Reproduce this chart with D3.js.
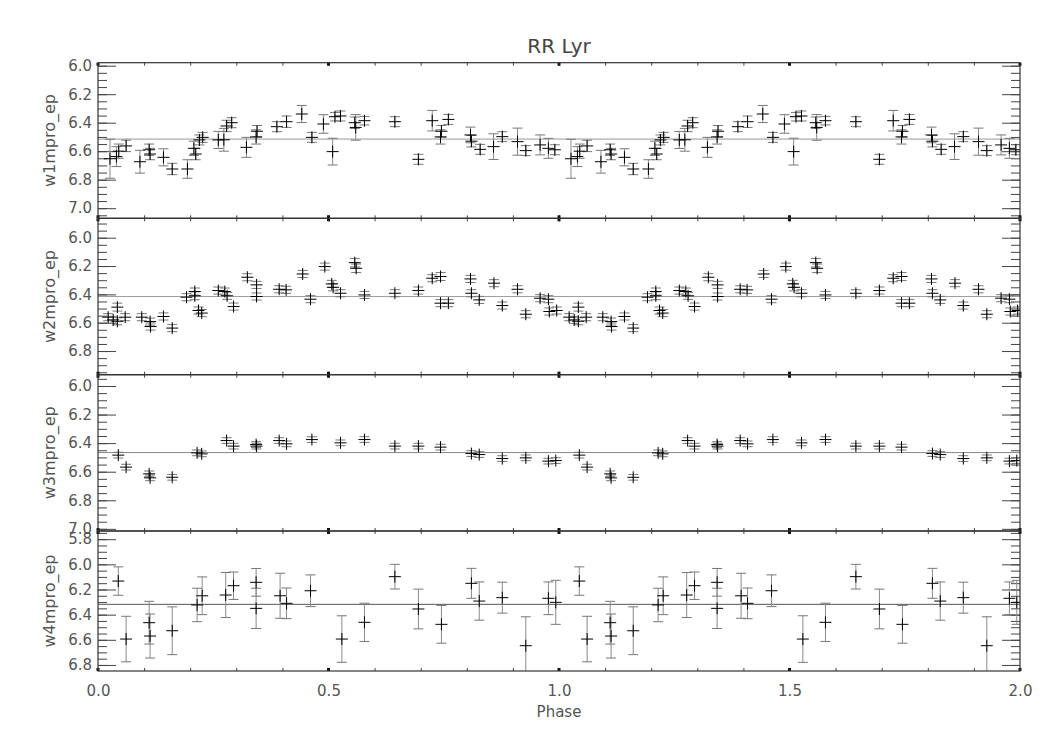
<!DOCTYPE html>
<html>
<head>
<meta charset="utf-8">
<script src="https://cdn.jsdelivr.net/npm/d3@7"></script>
<style>
  html, body { margin: 0; padding: 0; background: #fff; }
  svg { display: block; font-family: "DejaVu Sans", sans-serif; }
</style>
</head>
<body>
<svg id="chart" width="1050" height="750"></svg>
<script>
// ---------------- data ----------------
const title = "RR Lyr";
const xLabel = "Phase";
const bandNames = ["w1mpro_ep", "w2mpro_ep", "w3mpro_ep", "w4mpro_ep"];
const xTickLabels = [0.0, 0.5, 1.0, 1.5, 2.0];

const w1Phase = [0.026,0.040,0.045,0.061,0.091,0.111,0.113,0.142,0.161,0.194,0.208,0.212,0.220,0.227,0.261,0.273,0.279,0.290,0.322,0.343,0.345,0.388,0.409,0.442,0.464,0.489,0.509,0.514,0.526,0.557,0.559,0.578,0.644,0.695,0.725,0.743,0.745,0.760,0.808,0.810,0.829,0.858,0.877,0.910,0.928,0.959,0.977,0.991];
const w1Mag   = [6.653,6.638,6.600,6.563,6.674,6.590,6.620,6.643,6.725,6.725,6.580,6.620,6.521,6.503,6.521,6.520,6.423,6.400,6.573,6.500,6.460,6.428,6.393,6.339,6.503,6.409,6.603,6.358,6.353,6.400,6.433,6.386,6.393,6.657,6.386,6.500,6.460,6.377,6.486,6.530,6.587,6.568,6.498,6.533,6.596,6.556,6.580,6.590];
const w1Err   = [0.137,0.070,0.050,0.040,0.080,0.040,0.040,0.060,0.040,0.065,0.050,0.040,0.035,0.035,0.060,0.080,0.040,0.035,0.070,0.050,0.040,0.035,0.040,0.060,0.035,0.065,0.094,0.030,0.035,0.040,0.090,0.030,0.035,0.035,0.072,0.050,0.040,0.035,0.055,0.040,0.035,0.090,0.035,0.095,0.035,0.070,0.070,0.035];

const w2Phase = [0.022,0.033,0.042,0.042,0.059,0.095,0.113,0.114,0.142,0.161,0.192,0.210,0.210,0.218,0.225,0.261,0.275,0.280,0.294,0.324,0.344,0.344,0.393,0.408,0.444,0.461,0.492,0.507,0.510,0.526,0.557,0.560,0.578,0.644,0.695,0.725,0.743,0.743,0.760,0.808,0.810,0.827,0.859,0.877,0.910,0.928,0.959,0.977,0.979,0.995];
const w2Mag   = [6.561,6.580,6.490,6.590,6.561,6.561,6.592,6.627,6.556,6.638,6.420,6.410,6.380,6.514,6.532,6.373,6.380,6.410,6.486,6.279,6.333,6.415,6.364,6.368,6.256,6.434,6.204,6.326,6.350,6.392,6.176,6.216,6.404,6.392,6.373,6.286,6.274,6.462,6.462,6.291,6.392,6.439,6.321,6.479,6.364,6.540,6.427,6.434,6.521,6.514];
const w2Err   = [0.025,0.025,0.028,0.025,0.025,0.025,0.025,0.025,0.025,0.025,0.025,0.028,0.025,0.025,0.025,0.025,0.025,0.025,0.025,0.025,0.025,0.025,0.025,0.025,0.025,0.025,0.025,0.025,0.025,0.025,0.030,0.030,0.025,0.025,0.025,0.025,0.028,0.025,0.025,0.025,0.025,0.025,0.025,0.025,0.025,0.025,0.025,0.025,0.025,0.025];

const w3Phase = [0.044,0.061,0.111,0.113,0.161,0.215,0.225,0.279,0.294,0.343,0.344,0.393,0.409,0.464,0.526,0.578,0.644,0.695,0.743,0.810,0.827,0.877,0.928,0.977,0.993];
const w3Mag   = [6.484,6.568,6.615,6.643,6.639,6.468,6.475,6.382,6.421,6.410,6.421,6.382,6.405,6.375,6.398,6.375,6.421,6.421,6.428,6.473,6.480,6.508,6.503,6.526,6.522];
const w3Err   = [0.020,0.020,0.020,0.020,0.020,0.020,0.020,0.020,0.020,0.020,0.020,0.020,0.020,0.020,0.020,0.020,0.020,0.020,0.020,0.020,0.020,0.020,0.020,0.020,0.020];

const w4Phase = [0.044,0.061,0.111,0.113,0.161,0.215,0.226,0.277,0.294,0.343,0.343,0.395,0.409,0.461,0.529,0.578,0.644,0.695,0.745,0.810,0.827,0.877,0.928,0.977,0.993];
const w4Mag   = [6.133,6.594,6.464,6.570,6.528,6.323,6.250,6.244,6.170,6.143,6.350,6.250,6.310,6.210,6.594,6.461,6.098,6.355,6.477,6.151,6.292,6.265,6.647,6.270,6.302];
const w4Err   = [0.113,0.181,0.170,0.175,0.190,0.133,0.150,0.179,0.109,0.110,0.160,0.179,0.122,0.126,0.185,0.152,0.098,0.158,0.150,0.119,0.152,0.123,0.230,0.130,0.175];

const meanMag = [6.515, 6.415, 6.466, 6.318];
const yDomains = [[5.979, 7.071], [5.863, 6.967], [5.921, 7.015], [5.735, 6.848]];
const yMajorTicks = [
  [6.0, 6.2, 6.4, 6.6, 6.8, 7.0],
  [6.0, 6.2, 6.4, 6.6, 6.8],
  [6.0, 6.2, 6.4, 6.6, 6.8, 7.0],
  [5.8, 6.0, 6.2, 6.4, 6.6, 6.8]
];

// ---------------- layout ----------------
const svg = d3.select("#chart");
const left = 98, right = 1020;
const tops = [62.7, 218.3, 374.7, 531];
const bottoms = [218.3, 374.7, 531, 671];
const meanColors = ["#999", "#a0a0a0", "#888", "#555"];

const x = d3.scaleLinear().domain([0, 2]).range([left, right]);

const bands = [
  {phase: w1Phase, mag: w1Mag, err: w1Err},
  {phase: w2Phase, mag: w2Mag, err: w2Err},
  {phase: w3Phase, mag: w3Mag, err: w3Err},
  {phase: w4Phase, mag: w4Mag, err: w4Err}
];

const labelColor = "#555";
const axisColor = "#333";

bands.forEach((b, i) => {
  const top = tops[i], bot = bottoms[i];
  const y = d3.scaleLinear().domain(yDomains[i]).range([top, bot]);
  const g = svg.append("g");

  // clip
  const cid = "clip" + i;
  svg.append("clipPath").attr("id", cid).append("rect")
    .attr("x", left).attr("y", top).attr("width", right - left).attr("height", bot - top);

  // minor ticks every 0.05
  const d0 = yDomains[i][0], d1 = yDomains[i][1];
  const minor = d3.range(Math.ceil(d0 / 0.05 - 1e-6), Math.floor(d1 / 0.05 + 1e-6) + 1).map(k => +(k * 0.05).toFixed(2));

  const styleAxis = sel => {
    sel.select(".domain").remove();
    sel.selectAll("line").attr("stroke", "#444").attr("stroke-width", 1);
    sel.selectAll("text").attr("fill", labelColor).attr("font-size", 15)
      .attr("font-family", "DejaVu Sans, sans-serif");
  };

  g.append("g").attr("transform", `translate(${left},0)`)
    .call(d3.axisLeft(y).tickValues(minor).tickSize(-9).tickFormat(""))
    .call(styleAxis);
  g.append("g").attr("transform", `translate(${left},0)`)
    .call(d3.axisLeft(y).tickValues(yMajorTicks[i]).tickSize(-18).tickPadding(6).tickFormat(d3.format(".1f")))
    .call(styleAxis);
  g.append("g").attr("transform", `translate(${right},0)`)
    .call(d3.axisRight(y).tickValues(minor).tickSize(-9).tickFormat(""))
    .call(styleAxis);
  g.append("g").attr("transform", `translate(${right},0)`)
    .call(d3.axisRight(y).tickValues(yMajorTicks[i]).tickSize(-18).tickFormat(""))
    .call(styleAxis);

  // x ticks (top and bottom)
  const xMinor = d3.range(0, 21).map(k => k / 10);
  g.append("g").attr("transform", `translate(0,${bot})`)
    .call(d3.axisBottom(x).tickValues(xMinor).tickSize(-3).tickFormat(""))
    .call(styleAxis);
  g.append("g").attr("transform", `translate(0,${top})`)
    .call(d3.axisTop(x).tickValues(xMinor).tickSize(-3).tickFormat(""))
    .call(styleAxis);
  // major x ticks: small bold marks
  [top, bot].forEach((yy, j) => {
    g.selectAll(null).data(xTickLabels).enter().append("rect")
      .attr("x", d => x(d) - 1.5).attr("y", j === 0 ? yy : yy - 3)
      .attr("width", 3).attr("height", 3).attr("fill", "#111");
  });

  // mean line
  g.append("line").attr("x1", left).attr("x2", right)
    .attr("y1", y(meanMag[i])).attr("y2", y(meanMag[i]))
    .attr("stroke", meanColors[i]).attr("stroke-width", 1);

  // data, phase and phase + 1
  const pts = [];
  [0, 1].forEach(k => b.phase.forEach((p, j) => pts.push({p: p + k, m: b.mag[j], e: b.err[j]})));

  const pg = g.append("g").attr("clip-path", `url(#${cid})`);
  const cap = 5, arm = 6;
  pg.selectAll(".eb").data(pts).enter().append("line")
    .attr("x1", d => x(d.p)).attr("x2", d => x(d.p))
    .attr("y1", d => y(d.m - d.e)).attr("y2", d => y(d.m + d.e))
    .attr("stroke", "#8a8a8a").attr("stroke-width", 1);
  pg.selectAll(".capT").data(pts).enter().append("line")
    .attr("x1", d => x(d.p) - cap).attr("x2", d => x(d.p) + cap)
    .attr("y1", d => y(d.m - d.e)).attr("y2", d => y(d.m - d.e))
    .attr("stroke", "#777").attr("stroke-width", 1);
  pg.selectAll(".capB").data(pts).enter().append("line")
    .attr("x1", d => x(d.p) - cap).attr("x2", d => x(d.p) + cap)
    .attr("y1", d => y(d.m + d.e)).attr("y2", d => y(d.m + d.e))
    .attr("stroke", "#777").attr("stroke-width", 1);
  pg.selectAll(".ph").data(pts).enter().append("line")
    .attr("x1", d => x(d.p) - arm).attr("x2", d => x(d.p) + arm)
    .attr("y1", d => y(d.m)).attr("y2", d => y(d.m))
    .attr("stroke", "#000").attr("stroke-width", 1);
  pg.selectAll(".pv").data(pts).enter().append("line")
    .attr("x1", d => x(d.p)).attr("x2", d => x(d.p))
    .attr("y1", d => y(d.m) - arm).attr("y2", d => y(d.m) + arm)
    .attr("stroke", "#000").attr("stroke-width", 1);

  // frame
  g.append("rect").attr("x", left).attr("y", top)
    .attr("width", right - left).attr("height", bot - top)
    .attr("fill", "none").attr("stroke", axisColor).attr("stroke-width", 1.2);

  // y label
  g.append("text")
    .attr("transform", `translate(55,${(top + bot) / 2}) rotate(-90)`)
    .attr("text-anchor", "middle")
    .attr("fill", labelColor).attr("font-size", 16)
    .text(bandNames[i]);

  // x labels on the last panel
  if (i === 3) {
    g.append("g").attr("transform", `translate(0,${bot})`)
      .call(d3.axisBottom(x).tickValues(xTickLabels).tickSize(0).tickPadding(14).tickFormat(d3.format(".1f")))
      .call(styleAxis);
  }
});

// title
svg.append("text").attr("x", (left + right) / 2).attr("y", 53)
  .attr("text-anchor", "middle").attr("fill", "#444").attr("font-size", 20)
  .text(title);

// x axis label
svg.append("text").attr("x", (left + right) / 2).attr("y", 717)
  .attr("text-anchor", "middle").attr("fill", labelColor).attr("font-size", 15)
  .text(xLabel);
</script>
</body>
</html>
